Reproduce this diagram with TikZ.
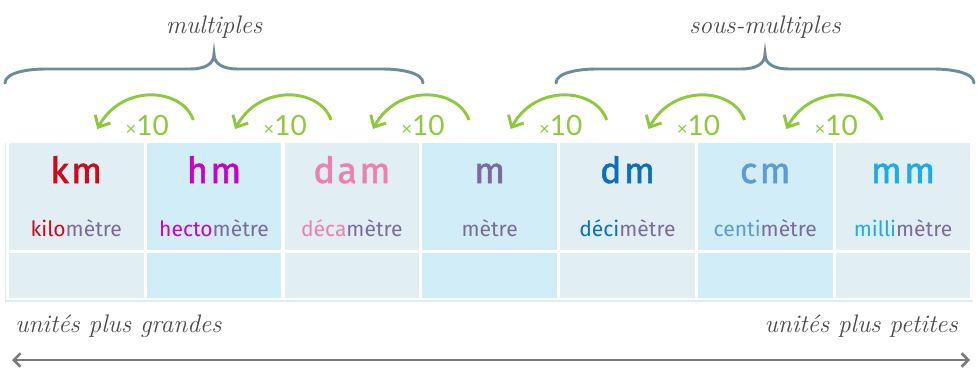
\documentclass[tikz,border=0pt]{standalone}
\usepackage{fontspec}
\usetikzlibrary{arrows.meta}
\newfontfamily\unitfont{Fira Sans}
\newfontfamily\abfont[FakeBold=1.6,LetterSpace=7]{Fira Sans}
\newfontfamily\numfont{Lato}
\definecolor{cA}{HTML}{E1EFF4}
\definecolor{cB}{HTML}{D1EDF7}
\definecolor{frameC}{HTML}{D8EDF4}
\definecolor{braceC}{HTML}{6B8C9B}
\definecolor{greenC}{HTML}{8DC93A}
\definecolor{greyC}{HTML}{7A7A7A}
\definecolor{scriptC}{HTML}{4A4A4A}
\definecolor{metreC}{HTML}{7B6B9A}
\definecolor{kmC}{HTML}{CC0A1E}
\definecolor{hmC}{HTML}{C800C8}
\definecolor{damC}{HTML}{EE7FB0}
\definecolor{dmC}{HTML}{0B6FBF}
\definecolor{cmC}{HTML}{5A9BD8}
\definecolor{mmC}{HTML}{19ACE8}
\tikzset{
  cellbox/.style={anchor=north west, inner sep=0pt, outer sep=0pt, minimum width=101pt},
  abbr/.style={anchor=base, inner sep=0pt, font=\abfont\fontsize{27}{30}\selectfont},
  unitname/.style={anchor=base, inner sep=0pt, font=\unitfont\fontsize{15.8}{20}\selectfont},
  times/.style={anchor=center, inner sep=0pt, text=greenC, font=\numfont\fontsize{21}{24}\selectfont},
  script/.style={inner sep=0pt, text=scriptC, font=\itshape\fontsize{19}{22}\selectfont},
  brace/.style={draw=braceC, line width=2.2pt, line cap=round},
  timesarrow/.style={draw=greenC, line width=2.2pt, -{Straight Barb[length=7pt,width=13pt,line width=2.2pt]}},
  axis/.style={draw=greyC, line width=1.9pt, {Straight Barb[length=5pt,width=10pt]}-{Straight Barb[length=5pt,width=10pt]}},
  frameline/.style={draw=frameC, line width=1pt}
}
\begin{document}
\begin{tikzpicture}[x=0.75pt,y=-0.75pt]
\useasboundingbox (0,0) rectangle (978,369);
% frame lines
\coordinate (fTL) at (5.5,143);
\coordinate (fBL) at (5.5,301);
\coordinate (fBR) at (973,301);
\draw[frameline] (fTL) -- (fBL) -- (fBR);
% cells
\foreach \i/\ab/\pre/\col/\bg in {1/km/kilo/kmC/cA, 2/hm/hecto/hmC/cB, 3/dam/déca/damC/cA, 4/m//metreC/cB, 5/dm/déci/dmC/cA, 6/cm/centi/cmC/cB, 7/mm/milli/mmC/cA}{
  \pgfmathsetmacro{\lx}{9+137.8*(\i-1)}
  \pgfmathsetmacro{\cx}{\lx+67.25}
  \node[cellbox, fill=\bg, minimum height=80.25pt] (cell\i) at (\lx,143) {};
  \node[cellbox, fill=\bg, minimum height=33.75pt] (low\i) at (\lx,253) {};
  \node[abbr, text=\col] (ab\i) at (\cx,183) {\ab};
  \node[unitname] (nm\i) at (\cx,236) {{\color{\col}\pre}{\color{metreC}mètre}};
}
% x10 arrows
\foreach \k in {1,...,6}{
  \pgfmathsetmacro{\bx}{9+137.8*\k-1.5}
  \coordinate (s\k) at (\bx+48,120);
  \coordinate (e\k) at (\bx-48,129);
  \draw[timesarrow] (s\k) .. controls +(-11,-32) and +(25,-46) .. (e\k);
  \node[times] (x\k) at (\bx+2,125) {{\fontsize{14}{14}\selectfont ×}10};
}
% braces
\foreach \n/\tx in {1/214, 2/765}{
  \coordinate (bl\n) at (\tx-209,83);
  \coordinate (bt\n) at (\tx,54);
  \coordinate (br\n) at (\tx+209,83);
  \draw[brace] (bl\n) .. controls +(0,-11) and +(-15,0) .. (\tx-169,69) -- (\tx-24,69)
     .. controls +(15,0) and +(0,10) .. (bt\n)
     .. controls +(0,10) and +(-15,0) .. (\tx+24,69) -- (\tx+169,69)
     .. controls +(15,0) and +(0,-11) .. (br\n);
}
\node[script, anchor=base] (mult) at (214,33) {multiples};
\node[script, anchor=base] (smult) at (765,33) {sous-multiples};
% bottom axis
\coordinate (axL) at (12,360);
\coordinate (axR) at (970,360);
\draw[axis] (axL) -- (axR);
\node[script, anchor=base west] (big) at (15,332) {unités plus grandes};
\node[script, anchor=base east] (small) at (958,332) {unités plus petites};
\end{tikzpicture}
\end{document}
